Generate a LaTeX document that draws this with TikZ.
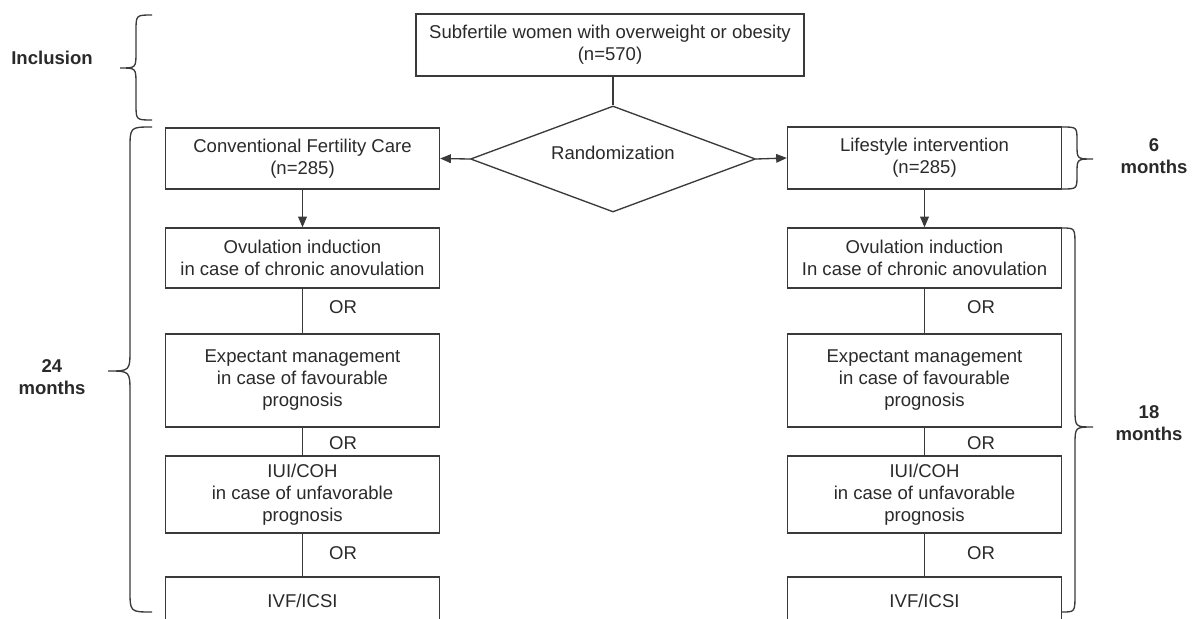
\documentclass[tikz,border=0pt]{standalone}
\usepackage{fontspec}
\setmainfont{Liberation Sans}
\usetikzlibrary{shapes.geometric,arrows.meta}
\definecolor{linec}{HTML}{3A3A3A}
\definecolor{txtc}{HTML}{2A2A2A}
\begin{document}
\begin{tikzpicture}[x=0.75pt,y=-0.75pt,
 every node/.style={font=\fontsize{13.9}{16.5}\selectfont, text=txtc},
 box/.style={draw=linec,line width=1pt,align=center,inner sep=0pt,minimum width=205.5pt},
 conn/.style={draw=linec,line width=1pt},
 arr/.style={conn,-{Triangle[length=8pt,width=6.5pt]}},
 lbl/.style={font=\bfseries\fontsize{13.9}{16.5}\selectfont,align=center},
 brc/.style={draw=linec,line width=1pt}]
\useasboundingbox (0,0) rectangle (1192,618);
\clip (0,0) rectangle (1192,618);
\fill[white] (0,0) rectangle (1192,618);

% top and randomization
\node[box,minimum width=291pt,minimum height=46.5pt] (top) at (610,45) {Subfertile women with overweight or obesity\\(n=570)};
\node[shape=diamond,shape aspect=2.69,draw=linec,line width=1pt,minimum width=213.75pt,minimum height=79.5pt,inner sep=0pt] (dia) at (613,159) {};
\node (rand) at (613,153) {Randomization};

% left column
\node[box,minimum height=45.75pt] (cfc) at (302.5,158.5) {Conventional Fertility Care\\(n=285)};
\node[box,minimum height=45pt] (ovl) at (302.5,258) {Ovulation induction\\in case of chronic anovulation};
\node[box,minimum height=69.75pt] (exl) at (302.5,380.5) {Expectant management\\in case of favourable\\prognosis};
\node[box,minimum height=57.75pt] (iul) at (302.5,494.5) {IUI/COH\\in case of unfavorable\\prognosis};
\node[box,minimum height=36pt] (ivl) at (302.5,601) {IVF/ICSI};

% right column
\node[box,minimum height=46.5pt] (li) at (924.5,158) {Lifestyle intervention\\(n=285)};
\node[box,minimum height=45pt] (ovr) at (924.5,258) {Ovulation induction\\In case of chronic anovulation};
\node[box,minimum height=69.75pt] (exr) at (924.5,380.5) {Expectant management\\in case of favourable\\prognosis};
\node[box,minimum height=57.75pt] (iur) at (924.5,494.5) {IUI/COH\\in case of unfavorable\\prognosis};
\node[box,minimum height=36pt] (ivr) at (924.5,601) {IVF/ICSI};

% connectors
\draw[conn] (dia.north |- top.south) -- (dia.north);
\draw[arr] (dia.west) -- (cfc.east);
\draw[arr] (dia.east) -- (li.west);
\draw[arr] (cfc.south) -- (ovl.north);
\draw[arr] (li.south) -- (ovr.north);
\draw[conn] (ovl.south) -- (exl.north);
\draw[conn] (exl.south) -- (iul.north);
\draw[conn] (iul.south) -- (ivl.north);
\draw[conn] (ovr.south) -- (exr.north);
\draw[conn] (exr.south) -- (iur.north);
\draw[conn] (iur.south) -- (ivr.north);

% OR labels
\node (orl1) at (343,307) {OR};
\node (orl2) at (343,443) {OR};
\node (orl3) at (343,553) {OR};
\node (orr1) at (981,307) {OR};
\node (orr2) at (981,443) {OR};
\node (orr3) at (981,553) {OR};

% braces
\draw[brc] (152,15) .. controls (136,15) .. (136,31) -- (136,52) .. controls (136,68) .. (120,68) .. controls (136,68) .. (136,84) -- (136,104) .. controls (136,120) .. (152,120);
\draw[brc] (152,127) .. controls (130,127) .. (130,149) -- (130,349) .. controls (130,371) .. (108,371) .. controls (130,371) .. (130,393) -- (130,590) .. controls (130,612) .. (152,612);
\draw[brc] (1062,127) .. controls (1077,127) .. (1077,141) -- (1077,145) .. controls (1077,159) .. (1093,159) .. controls (1077,159) .. (1077,173) -- (1077,175) .. controls (1077,189) .. (1062,189);
\draw[brc] (1062,228) .. controls (1075,228) .. (1075,246) -- (1075,409) .. controls (1075,427) .. (1093,427) .. controls (1075,427) .. (1075,445) -- (1075,594) .. controls (1075,612) .. (1062,612);

% side labels
\node[lbl] (inc) at (52,58) {Inclusion};
\node[lbl] (m24) at (52,377) {24\\months};
\node[lbl] (m6) at (1154,156) {6\\months};
\node[lbl] (m18) at (1149,423) {18\\months};
\end{tikzpicture}
\end{document}
